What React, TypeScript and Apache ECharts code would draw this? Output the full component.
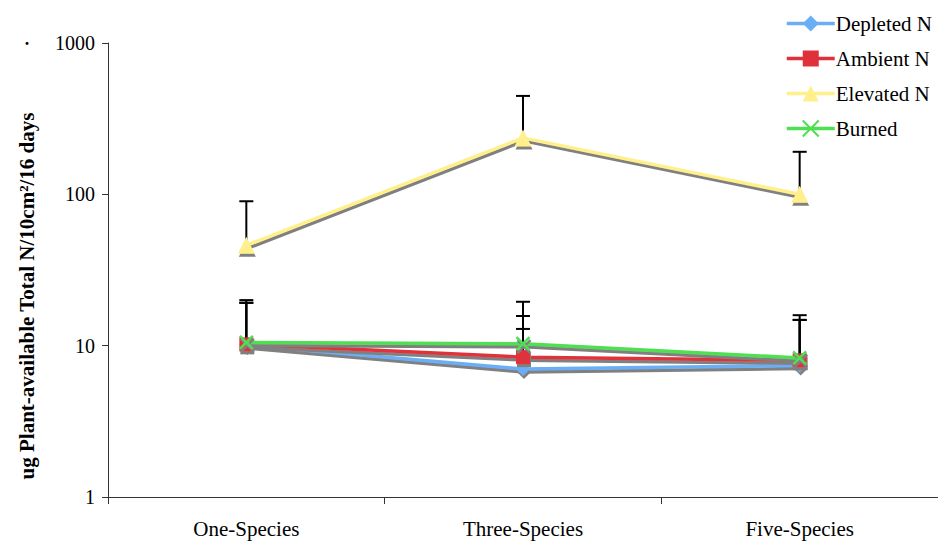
import React, { useEffect, useRef } from "react";
import * as echarts from "echarts";

const categories = ["One-Species", "Three-Species", "Five-Species"];
const seriesNames = ["Depleted N", "Ambient N", "Elevated N", "Burned"];
const depleted = [10.1, 7.0, 7.4];
const ambient = [10.2, 8.4, 8.0];
const elevated = [46, 236, 100];
const burned = [10.5, 10.3, 8.3];
const depletedErr = [19.2, 12.9, 14.8];
const ambientErr = [20.0, 15.7, 14.8];
const elevatedErr = [90, 447, 191];
const burnedErr = [19.2, 19.5, 15.9];
const yTicks = [1, 10, 100, 1000];

const colors = ["#6AAFF6", "#E0303A", "#FFF08C", "#4FDF52"];
const symbols = [
  "diamond",
  "rect",
  "triangle",
  "path://M0,0L10,10M10,0L0,10",
];

const FONT = "'Liberation Serif', 'Times New Roman', serif";

export default function App() {
  const ref = useRef<HTMLDivElement>(null);
  useEffect(() => {
    if (!ref.current) return;
    const chart = echarts.init(ref.current, undefined, { renderer: "svg" });
    const values = [depleted, ambient, elevated, burned];
    const errs = [depletedErr, ambientErr, elevatedErr, burnedErr];

    const lineSeries = seriesNames.map((name, i) => ({
      name,
      type: "line",
      data: values[i],
      symbol: symbols[i],
      symbolSize: i === 3 ? 13 : i === 2 ? 17 : 14,
      z: 3 + i,
      lineStyle: {
        color: colors[i],
        width: 3.5,
        shadowColor: "rgba(128,128,128,1)",
        shadowOffsetX: 1,
        shadowOffsetY: 3,
        shadowBlur: 0.5,
      },
      itemStyle: {
        color: colors[i],
        borderColor: colors[i],
        borderWidth: i === 3 ? 2.5 : 0,
        shadowColor: "rgba(128,128,128,1)",
        shadowOffsetX: 1,
        shadowOffsetY: 3,
        shadowBlur: 0.5,
      },
      emphasis: { disabled: true },
    }));

    const errSeries = seriesNames.map((name, i) => ({
      name: name + " err",
      type: "custom",
      z: 2,
      data: values[i].map((v, j) => [j, v, errs[i][j]]),
      encode: { x: 0, y: [1, 2] },
      renderItem: (params: any, api: any) => {
        const x = api.value(0);
        const lo = api.coord([x, api.value(1)]);
        const hi = api.coord([x, api.value(2)]);
        const st = { stroke: "#000", lineWidth: 2 };
        return {
          type: "group",
          children: [
            { type: "line", shape: { x1: lo[0], y1: lo[1], x2: hi[0], y2: hi[1] }, style: st },
            { type: "line", shape: { x1: hi[0] - 7, y1: hi[1], x2: hi[0] + 7, y2: hi[1] }, style: st },
          ],
        };
      },
    }));

    chart.setOption({
      animation: false,
      grid: { left: 108, top: 43, bottom: 47, right: -6, containLabel: false },
      legend: {
        data: seriesNames,
        orient: "vertical",
        left: 780,
        top: 8,
        itemWidth: 48,
        itemHeight: 20,
        itemGap: 14,
        textStyle: { fontFamily: FONT, fontSize: 21, color: "#000", lineHeight: 20, padding: [0, 0, 0, -4] },
        lineStyle: { width: 3.5, shadowColor: "rgba(0,0,0,0)", shadowBlur: 0, shadowOffsetX: 0, shadowOffsetY: 0 },
        itemStyle: { shadowColor: "rgba(0,0,0,0)", shadowBlur: 0, shadowOffsetX: 0, shadowOffsetY: 0 },
      },
      xAxis: {
        type: "category",
        data: categories,
        boundaryGap: true,
        axisLine: { lineStyle: { color: "#333", width: 1 } },
        axisTick: { show: true, length: 7, lineStyle: { color: "#333" } },
        axisLabel: { fontFamily: FONT, fontSize: 21, color: "#000", margin: 21 },
      },
      yAxis: {
        type: "log",
        logBase: 10,
        min: yTicks[0],
        max: yTicks[yTicks.length - 1],
        splitLine: { show: false },
        axisLine: { show: true, lineStyle: { color: "#333", width: 1 } },
        axisTick: { show: true, length: 6, lineStyle: { color: "#333" } },
        minorTick: { show: false },
        axisLabel: {
          fontFamily: FONT,
          fontSize: 20,
          color: "#000",
          margin: 13,
          formatter: (v: number) => String(Math.round(v)),
        },
      },
      graphic: [
        {
          type: "text",
          x: 27,
          y: 296,
          rotation: Math.PI / 2,
          style: {
            text: "ug Plant-available Total N/10cm²/16 days",
            font: `bold 21px ${FONT}`,
            fill: "#000",
            align: "center",
            verticalAlign: "middle",
          },
        },
        {
          type: "text",
          x: 27,
          y: 44,
          style: { text: "·", font: `bold 18px ${FONT}`, fill: "#000", align: "center", verticalAlign: "middle" },
        },
      ],
      series: [...errSeries, ...lineSeries],
    });
    return () => chart.dispose();
  }, []);
  return <div ref={ref} style={{ width: 938, height: 544, position: "absolute", left: 0, top: 0 }} />;
}
